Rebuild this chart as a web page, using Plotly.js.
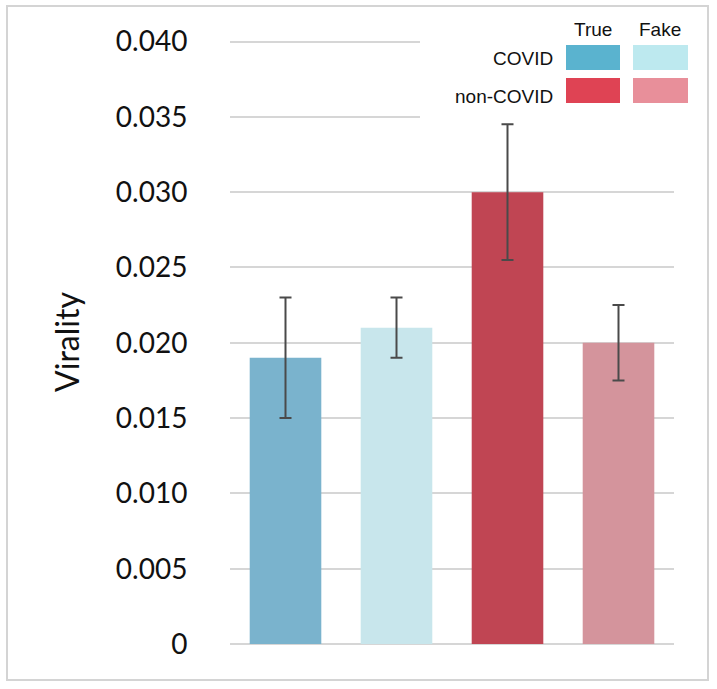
<!DOCTYPE html>
<html>
<head>
<meta charset="utf-8">
<script src="https://cdn.plot.ly/plotly-3.0.1.min.js"></script>
<style>
  html, body { margin: 0; padding: 0; background: #ffffff; }
  #wrap { position: relative; width: 717px; height: 689px; }
  #chart { width: 717px; height: 689px; }
  #frame { position: absolute; left: 6px; top: 5px; width: 699px; height: 672px;
           border: 2px solid #d4d4d4; pointer-events: none; }
</style>
</head>
<body>
<div id="wrap">
  <div id="chart"></div>
  <div id="frame"></div>
</div>
<script>
// ---- data ----
const categories = ["COVID True", "COVID Fake", "non-COVID True", "non-COVID Fake"];
const virality   = [0.019, 0.021, 0.030, 0.020];
const errPlus    = [0.004, 0.002, 0.0045, 0.0025];
const errMinus   = [0.004, 0.002, 0.0045, 0.0025];
const barColors  = ["#7ab3cd", "#c8e6ec", "#c04553", "#d4949c"];

const yTickVals  = [0, 0.005, 0.010, 0.015, 0.020, 0.025, 0.030, 0.035, 0.040];
const yTickText  = ["0", "0.005", "0.010", "0.015", "0.020", "0.025", "0.030", "0.035", "0.040"];

const legendCols   = ["True", "Fake"];
const legendRows   = ["COVID", "non-COVID"];
const legendColors = [["#5ab3cf", "#bde9ef"], ["#df4354", "#e88f9a"]];

// ---- layout geometry (pixels) ----
const W = 717, H = 689;
const M = {l: 230, r: 43, t: 40, b: 45};
const pw = W - M.l - M.r, ph = H - M.t - M.b;
const px = x => (x - M.l) / pw;          // pixel -> paper x
const py = y => (H - M.b - y) / ph;      // pixel -> paper y
const catW = pw / categories.length;
const pxCat = x => -0.5 + (x - M.l) / catW;   // pixel -> category coordinate

const trace = {
  type: "bar",
  x: categories,
  y: virality,
  marker: {color: barColors},
  width: 0.645,
  error_y: {type: "data", symmetric: false, array: errPlus, arrayminus: errMinus,
            color: "#4a4a4a", thickness: 2, width: 6},
  hoverinfo: "x+y"
};

// white mask hiding the gridlines behind the legend block (between grid and bars)
const shapes = [{type: "rect", xref: "x", yref: "y", layer: "between",
  x0: pxCat(420), x1: 3.6, y0: 0.0342, y1: 0.0405, fillcolor: "#ffffff", line: {width: 0}}];
const annotations = [];
const colX = [[566, 620], [633, 688]];
const colTextX = [593, 660];
const rowY = [[45, 70], [78, 103]];
const rowTextY = [58, 97];
const legFont = {family: "Liberation Sans, Arial, sans-serif", size: 19, color: "#111"};
legendCols.forEach((c, j) => {
  annotations.push({xref: "paper", yref: "paper", x: px(colTextX[j]), y: py(29),
    text: c, showarrow: false, xanchor: "center", yanchor: "middle", font: legFont});
});
legendRows.forEach((r, i) => {
  annotations.push({xref: "paper", yref: "paper", x: px(555), y: py(rowTextY[i]),
    text: r, showarrow: false, xanchor: "right", yanchor: "middle", font: legFont});
  legendCols.forEach((c, j) => {
    shapes.push({type: "rect", xref: "paper", yref: "paper", layer: "above",
      x0: px(colX[j][0]), x1: px(colX[j][1]), y0: py(rowY[i][1]), y1: py(rowY[i][0]),
      fillcolor: legendColors[i][j], line: {width: 0}});
  });
});

const layout = {
  width: W, height: H,
  margin: M,
  paper_bgcolor: "rgba(0,0,0,0)",
  plot_bgcolor: "#ffffff",
  showlegend: false,
  bargap: 0.355,
  xaxis: {
    type: "category",
    range: [-0.5, 3.5],
    showticklabels: false,
    showgrid: false,
    zeroline: false,
    showline: false,
    ticks: ""
  },
  yaxis: {
    range: [0, 0.0401],
    tickvals: yTickVals,
    ticktext: yTickText,
    showgrid: true,
    gridcolor: "#d6d6d6",
    gridwidth: 2,
    zeroline: true,
    zerolinecolor: "#d6d6d6",
    zerolinewidth: 2,
    showline: false,
    ticks: "outside",
    ticklen: 36,
    tickcolor: "rgba(0,0,0,0)",
    tickfont: {family: "Lato, Carlito, sans-serif", size: 28, color: "#111"},
    title: {text: "Virality", standoff: 26,
            font: {family: "Lato, Carlito, sans-serif", size: 32, color: "#111"}},
    automargin: false
  },
  shapes: shapes,
  annotations: annotations
};

Plotly.newPlot("chart", [trace], layout, {displayModeBar: false, staticPlot: true});
</script>
</body>
</html>
